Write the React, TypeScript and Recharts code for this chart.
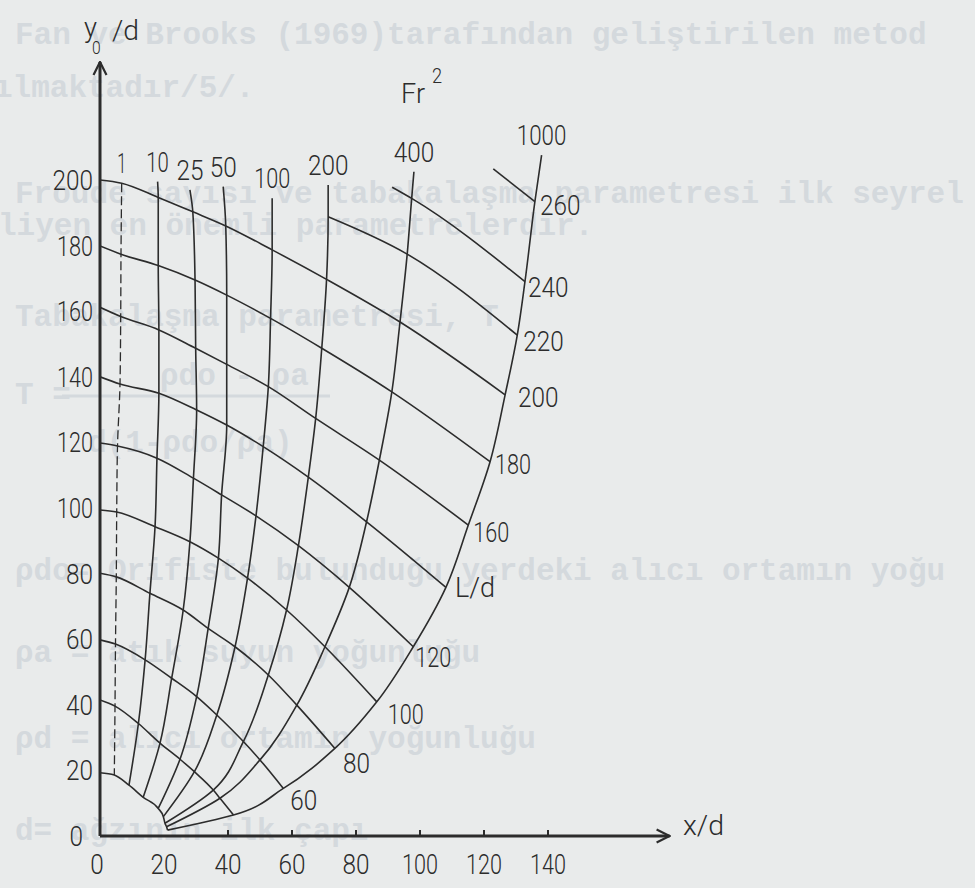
import { ComposedChart, Line, Scatter, XAxis, YAxis } from 'recharts';

type Pair = [number, number];
type Pt = { x: number; y: number; label?: string; idx?: number };

// L/d arcs, bottom to top
const LD_LEVELS = [20, 40, 60, 80, 100, 120, 140, 160, 180, 200, 220, 240, 260];
const LD_TEXT = ['', '', '60', '80', '100', '120', 'L/d', '160', '180', '200', '220', '240', '260'];
// where each arc leaves the y axis (x/d = 0); upper arcs start inside the field
const LD_AXIS_Y: (number | null)[] = [19.3, 41.5, 59.8, 80.1, 99.4, 119.8, 140.0, 161.2, 179.9, 200.0, null, null, null];
const LD_FREE_START: (Pair | null)[] = [null, null, null, null, null, null, null, null, null, null, null, [91.3, 197.8], [122.9, 203.4]];

// Fr^2 curves: crossing with each L/d arc (same order as LD_LEVELS), null where it doesn't reach
const FR_VALUES = [1, 10, 25, 50, 100, 200, 400, 1000];
const FR_1: (Pair | null)[] = [[4.47, 18.6], [4.69, 39.6], [4.84, 58.5], [5.09, 79.0], [5.22, 98.8], [5.47, 118.9], [6.25, 137.8], [6.47, 158.4], [6.56, 177.4], [6.78, 199.0], null, null, null];
const FR_10: (Pair | null)[] = [[9.06, 15.5], [12.0, 34.3], [14.1, 53.7], [15.6, 74.0], [17.2, 94.3], [17.8, 115.2], [18.4, 135.0], [18.4, 154.3], [18.2, 173.9], [18.2, 194.7], null, null, null];
const FR_25: (Pair | null)[] = [[13.5, 11.8], [18.75, 28.3], [22.4, 48.1], [26.0, 68.9], [28.1, 89.7], [29.2, 109.1], [30.2, 129.9], [29.9, 148.7], [29.7, 169.5], [29.0, 190.3], null, null, null];
const FR_50: (Pair | null)[] = [[18.2, 8.4], [25.0, 23.4], [30.2, 42.5], [33.8, 63.3], [37.0, 84.7], [38.0, 104.0], [39.6, 125.3], [39.6, 143.8], [39.6, 164.9], [39.3, 186.0], null, null, null];
const FR_100: (Pair | null)[] = [[19.8, 5.9], [29.5, 19.6], [36.5, 36.9], [42.2, 57.7], [46.1, 78.6], [48.75, 97.6], [51.0, 118.7], [52.6, 137.0], [53.3, 157.8], [53.8, 178.7], null, null, null];
const FR_200: (Pair | null)[] = [[20.3, 3.9], [35.4, 14.0], [44.8, 28.8], [52.6, 49.1], [58.3, 68.9], [62.0, 88.5], [65.1, 109.4], [67.4, 127.3], [69.3, 148.7], [70.8, 169.7], [71.3, 188.8], null, null];
const FR_400: (Pair | null)[] = [[20.8, 2.8], [37.5, 11.5], [50.0, 23.2], [61.5, 39.9], [70.3, 57.7], [77.9, 75.8], [83.3, 95.8], [87.3, 114.6], [91.2, 135.4], [93.75, 156.7], [96.0, 177.4], [97.4, 194.4], null];
const FR_1000: (Pair | null)[] = [[21.1, 1.8], [41.7, 6.4], [57.3, 14.5], [73.4, 26.7], [86.5, 40.9], [97.9, 57.7], [108.1, 75.8], [115.1, 94.8], [121.9, 114.1], [126.6, 134.5], [130.4, 152.7], [132.8, 169.0], [135.9, 193.4]];
// free upper end of each Fr^2 curve (Fr^2 = 1 ends on the 200 arc)
const FR_TOPS: (Pair | null)[] = [null, [18.0, 199.5], [28.1, 197.0], [38.5, 198.0], [53.8, 194.4], [71.3, 198.5], [98.1, 202.5], [138.0, 207.6]];

const X_TICKS = [0, 20, 40, 60, 80, 100, 120, 140];
const Y_TICKS = [0, 20, 40, 60, 80, 100, 120, 140, 160, 180, 200];

// label nudges (px) next to the end of each L/d arc: [dx, dy of text centre]
const LD_NUDGE: Pair[] = [[0, 0], [0, 0], [7, 12], [8, 15], [11, 12], [2, 10], [9, 0], [5, 7], [5, 2], [13, 2], [6, 6], [3, 5], [5, 3]];

const W = 975;
const H = 888;
const X0 = 100;
const Y0 = 836;
const KX = 3.2;
const KY = 3.28;
const X_MAX = 178;
const Y_MAX = 236;

const PAPER = '#e9ebeb';
const INK = '#2c2c2c';
const GHOST = '#d4d9dd';
const FONT = 'Roboto, "DejaVu Sans", sans-serif';
const MONO = '"Liberation Mono", "DejaVu Sans Mono", monospace';

const FR_CROSS = [FR_1, FR_10, FR_25, FR_50, FR_100, FR_200, FR_400, FR_1000];

const toPt = (p: Pair): Pt => ({ x: p[0], y: p[1] });

const frCurves = FR_VALUES.map((fr, k) => {
  const top = FR_TOPS[k];
  const down = FR_CROSS[k].slice().reverse().filter((p): p is Pair => p !== null).map(toPt);
  return { fr, pts: top ? [toPt(top), ...down] : down };
});

const ldArcs = LD_LEVELS.map((ld, i) => {
  const pts: Pt[] = [];
  const ay = LD_AXIS_Y[i];
  if (ay !== null) pts.push({ x: 0, y: ay });
  const fs = LD_FREE_START[i];
  if (fs) pts.push(toPt(fs));
  FR_CROSS.forEach((c) => {
    const p = c[i];
    if (p) pts.push(toPt(p));
  });
  return { ld, pts };
});

const frLabels: Pt[] = frCurves.map((c) => ({ ...c.pts[0], label: String(c.fr) }));
const ldLabels: Pt[] = ldArcs
  .map((a, i) => ({ ...a.pts[a.pts.length - 1], label: LD_TEXT[i], idx: i }))
  .filter((p) => p.label);

// the drawing's lettering is a narrow stencil face; squeeze the text to its widths
const CHAR_W: Record<string, number> = { '1': 9, 'L': 13, '/': 12, 'd': 15, 'x': 14, 'y': 13, 'F': 14, 'r': 10 };
const textWidth = (s: string) => s.split('').reduce((w, ch) => w + (CHAR_W[ch] ?? 13.5), 0);

function Txt({ x, y, children, anchor = 'start', size = 28 }: any) {
  const s = String(children);
  const k = size / 28;
  return (
    <text
      x={x}
      y={y}
      textAnchor={anchor}
      fontFamily={FONT}
      fontWeight={300}
      fontSize={size}
      fill={INK}
      textLength={textWidth(s) * k}
      lengthAdjust="spacingAndGlyphs"
    >
      {s}
    </text>
  );
}

function XTick({ x, y, payload }: any) {
  return (
    <g>
      {payload.value >= 40 && <line x1={x} x2={x} y1={y} y2={y - 6} stroke={INK} strokeWidth={2} />}
      <Txt x={payload.value === 0 ? x - 3 : x} y={y + 38} anchor="middle">
        {payload.value}
      </Txt>
    </g>
  );
}

function YTick({ x, y, payload }: any) {
  return (
    <Txt x={payload.value === 0 ? x - 17 : x - 7} y={y + 10} anchor="end">
      {payload.value}
    </Txt>
  );
}

function FrLabel({ cx, cy, payload }: any) {
  return (
    <Txt x={cx} y={cy - 10} anchor="middle">
      {payload.label}
    </Txt>
  );
}

function LdLabel({ cx, cy, payload }: any) {
  const [dx, dy] = LD_NUDGE[payload.idx];
  return (
    <Txt x={cx + dx} y={cy + dy + 10}>
      {payload.label}
    </Txt>
  );
}

const GHOST_LINES: [string, number, number][] = [
  ['Fan ve Brooks (1969)tarafından geliştirilen metod', 15, 44],
  ['ılmaktadır/5/.', -6, 97],
  ['Froude sayısı ve tabakalaşma parametresi ilk seyrel', 15, 203],
  ['liyen en önemli parametrelerdir.', -2, 235],
  ['Tabakalaşma parametresi, T', 15, 326],
  ['T =', 15, 404],
  ['ρdo - ρa', 160, 385],
  ['d(1-ρdo/ρa)', 88, 452],
  ['ρdo= Orifiste bulunduğu yerdeki alıcı ortamın yoğu', 15, 580],
  ['ρa = atık suyun yoğunluğu', 15, 662],
  ['ρd = alıcı ortamın yoğunluğu', 15, 748],
  ['d= ağzının ilk çapı', 15, 840],
];

function BleedThrough() {
  return (
    <svg width={W} height={H} style={{ position: 'absolute', left: 0, top: 0 }}>
      {GHOST_LINES.map(([t, x, y]) => (
        <text key={t} x={x} y={y} fontFamily={MONO} fontSize={31} fontWeight="bold" fill={GHOST}>
          {t}
        </text>
      ))}
      <line x1={62} x2={330} y1={396} y2={396} stroke={GHOST} strokeWidth={3} />
    </svg>
  );
}

export default function App() {
  return (
    <div style={{ position: 'fixed', left: 0, top: 0, width: W, height: H, background: PAPER, overflow: 'hidden' }}>
      <BleedThrough />
      <div style={{ position: 'absolute', left: 0, top: 0 }}>
        <ComposedChart
          width={W}
          height={H}
          margin={{ left: X0 - 1, top: Y0 - Y_MAX * KY, right: W - X0 - X_MAX * KX, bottom: H - Y0 - 1 }}
        >
          <defs>
            <marker
              id="axisArrow"
              viewBox="0 0 16 16"
              refX={15}
              refY={8}
              markerWidth={16}
              markerHeight={16}
              markerUnits="userSpaceOnUse"
              orient="auto-start-reverse"
            >
              <path d="M2,1.5 L15,8 L2,14.5" fill="none" stroke={INK} strokeWidth={2.2} />
            </marker>
          </defs>
          <XAxis
            type="number"
            dataKey="x"
            domain={[0, X_MAX]}
            ticks={X_TICKS}
            allowDataOverflow
            height={1}
            tickSize={0}
            tickMargin={0}
            tickLine={false}
            tick={<XTick />}
            axisLine={{ stroke: INK, strokeWidth: 3, markerEnd: 'url(#axisArrow)' }}
          />
          <YAxis
            type="number"
            dataKey="y"
            domain={[0, Y_MAX]}
            ticks={Y_TICKS}
            allowDataOverflow
            width={1}
            tickSize={0}
            tickMargin={0}
            tickLine={false}
            tick={<YTick />}
            axisLine={{ stroke: INK, strokeWidth: 3, markerStart: 'url(#axisArrow)' }}
          />

          {ldArcs.map((a) => (
            <Line
              key={`ld-${a.ld}`}
              data={a.pts}
              dataKey="y"
              type="monotoneX"
              stroke={INK}
              strokeWidth={1.6}
              dot={false}
              activeDot={false}
              isAnimationActive={false}
            />
          ))}
          {frCurves.map((c) => (
            <Line
              key={`fr-${c.fr}`}
              data={c.pts}
              dataKey="y"
              type="monotoneY"
              stroke={INK}
              strokeWidth={c.fr === 1 ? 1.3 : 1.6}
              strokeDasharray={c.fr === 1 ? '9 4' : undefined}
              dot={false}
              activeDot={false}
              isAnimationActive={false}
            />
          ))}

          <Scatter data={frLabels} dataKey="y" shape={<FrLabel />} isAnimationActive={false} />
          <Scatter data={ldLabels} dataKey="y" shape={<LdLabel />} isAnimationActive={false} />

          <Txt x={683} y={835}>x/d</Txt>
          <Txt x={84} y={37}>y</Txt>
          <Txt x={92} y={54} size={18}>0</Txt>
          <Txt x={112} y={40}>/d</Txt>
          <Txt x={401} y={103}>Fr</Txt>
          <Txt x={432} y={83} size={21}>2</Txt>
        </ComposedChart>
      </div>
    </div>
  );
}
